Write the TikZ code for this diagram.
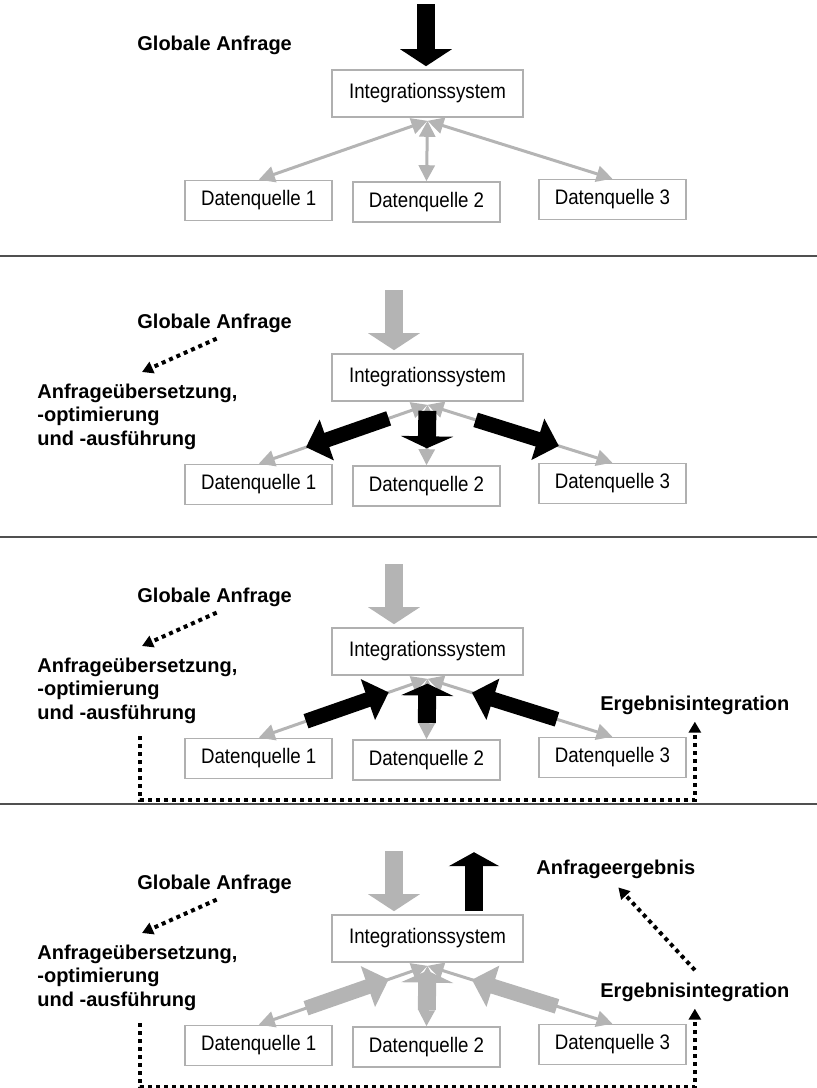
\documentclass[tikz,border=0pt]{standalone}
\usepackage{fontspec}
\setmainfont{Liberation Sans}
\newfontfamily\kastenschrift{Liberation Sans}[FakeStretch=0.89]
\usetikzlibrary{calc,arrows.meta}

\definecolor{grau}{RGB}{180,180,180}
\definecolor{rahmen}{RGB}{176,176,176}
\definecolor{trenner}{RGB}{80,80,80}

\tikzset{
    kasten/.style={draw=rahmen, line width=0.8pt, inner sep=0pt,
        minimum width=95.5pt, minimum height=23.5pt,
        font=\kastenschrift\fontsize{10.5}{12}\selectfont},
    quelle/.style={kasten, minimum width=73.5pt, minimum height=20pt},
    fett/.style={font=\bfseries, inner sep=0pt},
    verbindung/.style={draw=grau, line width=1.5pt,
        {Triangle[width=8pt,length=8pt]}-{Triangle[width=8pt,length=8pt]}},
    blockpfeil/.style={line width=9pt, -{Triangle[width=25.5pt,length=8.5pt]}},
    flachpfeil/.style={line width=9pt, -{Triangle[width=26pt,length=6pt]}},
    schraegpfeil/.style={line width=7.5pt, -{Triangle[width=21pt,length=11pt]}},
    punkte/.style={line width=2pt, dash pattern=on 2pt off 2pt,
        -{Triangle[width=6pt,length=5.5pt]}}
}

\begin{document}
\begin{tikzpicture}[x=0.5pt,y=-0.5pt]
    \useasboundingbox (0,0) rectangle (817,1088);

    % Integrationssystem und Datenquellen, viermal untereinander
    \foreach \p/\off in {1/0,2/284,3/558,4/845}{
        \begin{scope}[shift={(0,\off)}]
            \node[kasten] (is\p) at (427.5,93.5) {Integrationssystem};
            \node[quelle] (dq\p-1) at (258.75,200.5) {Datenquelle 1};
            \node[quelle] (dq\p-2) at (426.5,202) {Datenquelle 2};
            \node[quelle] (dq\p-3) at (612.5,199.5) {Datenquelle 3};
            \coordinate (hub\p) at ([yshift=-1.5pt]is\p.south);
            \foreach \q in {1,2,3}
                \draw[verbindung] (hub\p) -- (dq\p-\q.north);
        \end{scope}
    }

    % Beschriftungen links
    \node[fett, anchor=base west] (ga1) at (137,50) {Globale Anfrage};
    \foreach \p/\off in {2/284,3/558,4/845}{
        \begin{scope}[shift={(0,\off)}]
            \node[fett, anchor=base west] (ga\p) at (137,44) {Globale Anfrage};
            \node[fett, align=left, anchor=north west,
                font=\bfseries\fontsize{10}{11.75}\selectfont] (ub\p) at (37,99.5)
                {Anfrageübersetzung,\\-optimierung\\und -ausführung};
            \draw[punkte] ([xshift=1pt,yshift=-3pt]ga\p.south)
                -- ([xshift=52.5pt,yshift=5.75pt]ub\p.north west);
        \end{scope}
    }
    \foreach \p/\off in {3/558,4/845}{
        \node[fett, anchor=base west] (ei\p) at (600,152+\off) {Ergebnisintegration};
        \draw[punkte] ([xshift=51.5pt,yshift=-6pt]ub\p.south west)
            -- ++(0,64) -| ([yshift=-3.5pt]ei\p.south);
    }
    \node[fett, anchor=base west] (ae4) at (536,874) {Anfrageergebnis};
    \draw[punkte] ([yshift=6pt]ei4.north) -- ([xshift=1.25pt,yshift=-4.4pt]ae4.south);

    % globale Anfrage und Ergebnis
    \draw[blockpfeil] ([xshift=-0.75pt,yshift=32.5pt]is1.north)
        -- ([xshift=-0.75pt,yshift=1.5pt]is1.north);
    \foreach \p in {2,3,4}
        \draw[blockpfeil, grau] ([xshift=-16.75pt,yshift=31.5pt]is\p.north)
            -- ([xshift=-16.75pt,yshift=1.5pt]is\p.north);
    \draw[blockpfeil, -{Triangle[width=25pt,length=7pt]}]
        ([xshift=23.25pt,yshift=1.5pt]is4.north) -- ([xshift=23.25pt,yshift=31pt]is4.north);

    % Teilanfragen an die Quellen
    \draw[schraegpfeil] ($(hub2)!0.23!(dq2-1.north)$) -- ($(hub2)!0.72!(dq2-1.north)$);
    \draw[flachpfeil] ($(hub2)!0.1!(dq2-2.north)$) -- ($(hub2)!0.72!(dq2-2.north)$);
    \draw[schraegpfeil] ($(hub2)!0.26!(dq2-3.north)$) -- ($(hub2)!0.71!(dq2-3.north)$);

    % Teilergebnisse zurueck
    \foreach \p/\farbe in {3/black,4/grau}{
        \draw[schraegpfeil, \farbe] ($(hub\p)!0.72!(dq\p-1.north)$) -- ($(hub\p)!0.23!(dq\p-1.north)$);
        \draw[flachpfeil, \farbe] ($(hub\p)!0.73!(dq\p-2.north)$) -- ($(hub\p)!0.08!(dq\p-2.north)$);
        \draw[schraegpfeil, \farbe] ($(hub\p)!0.70!(dq\p-3.north)$) -- ($(hub\p)!0.24!(dq\p-3.north)$);
    }

    % Trennlinien
    \foreach \y in {256,537,804}
        \draw[trenner, line width=1pt] (0,\y) -- (817,\y);
\end{tikzpicture}
\end{document}
